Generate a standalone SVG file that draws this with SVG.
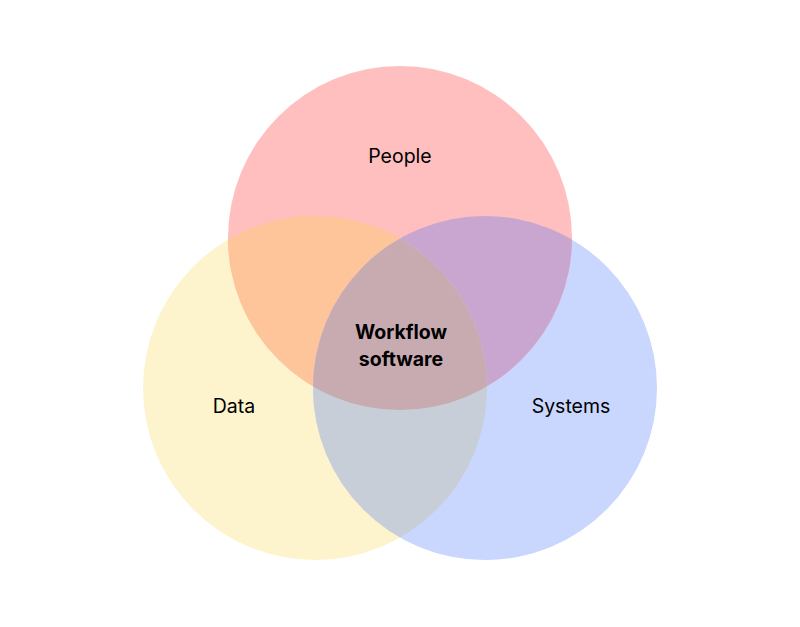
<svg xmlns="http://www.w3.org/2000/svg" width="800" height="627" viewBox="0 0 800 627">
<style>
.lbl{font-family:Inter,"Noto Sans","Liberation Sans",sans-serif;font-size:19.5px;fill:#000;text-anchor:middle}
.bold{font-weight:700}
</style>
<defs>
<clipPath id="cpPeople"><circle cx="400" cy="238" r="172"/></clipPath>
<clipPath id="cpSystems"><circle cx="485" cy="388" r="172"/></clipPath>
</defs>
<rect width="800" height="627" fill="#fff"/>
<g id="data"><circle cx="315" cy="388" r="172" fill="#FDF3CC"/></g>
<g id="systems"><circle cx="485" cy="388" r="172" fill="#C9D6FD"/></g>
<g id="people"><circle cx="400" cy="238" r="172" fill="#FFBFBF"/></g>
<g id="overlaps">
<circle cx="315" cy="388" r="172" fill="#FEC59B" clip-path="url(#cpPeople)"/>
<circle cx="485" cy="388" r="172" fill="#C9A6CF" clip-path="url(#cpPeople)"/>
<circle cx="315" cy="388" r="172" fill="#C8CED8" clip-path="url(#cpSystems)"/>
<g clip-path="url(#cpSystems)"><circle cx="315" cy="388" r="172" fill="#C8ABB1" clip-path="url(#cpPeople)"/></g>
</g>
<g id="labels">
<text class="lbl" x="400" y="163">People</text>
<text class="lbl" x="234" y="413">Data</text>
<text class="lbl" x="571" y="413">Systems</text>
<g id="center"><text class="lbl bold" x="401" y="339">Workflow</text>
<text class="lbl bold" x="401" y="366">software</text></g>
</g>
<g id="connectors"/>
</svg>
